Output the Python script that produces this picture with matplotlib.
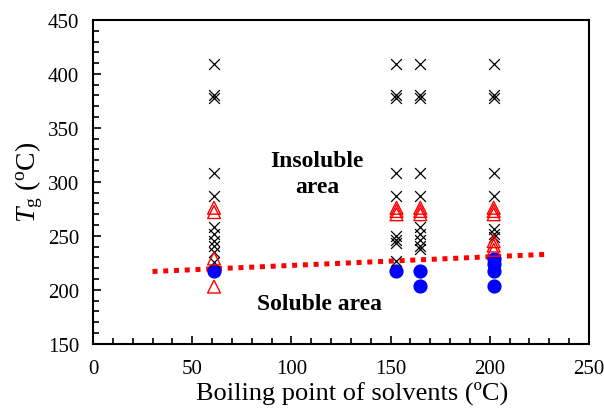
import matplotlib
matplotlib.use('Agg')
import matplotlib.pyplot as plt
from matplotlib.ticker import MultipleLocator

plt.rcParams['font.family'] = ['Liberation Serif', 'DejaVu Serif']
plt.rcParams['mathtext.fontset'] = 'custom'
plt.rcParams['mathtext.rm'] = 'Liberation Serif'
plt.rcParams['mathtext.it'] = 'Liberation Serif:italic'

# boiling points of the solvents (chloroform, DMF, DMAc, NMP)
bp_chcl3 = 61
bp_dmf = 153
bp_dmac = 165
bp_nmp = 202

# insoluble (x)
insol_x = [bp_chcl3] * 11 + [bp_dmf] * 9 + [bp_dmac] * 10 + [bp_nmp] * 8
insol_y = [409, 380, 378, 308, 287, 258, 252, 245, 241, 235, 226,
           409, 380, 378, 308, 287, 250, 246, 243, 227,
           409, 380, 378, 308, 287, 258, 252, 246, 241, 238,
           409, 380, 378, 308, 287, 256, 252, 249]

# partly soluble (open triangles)
part_x = [bp_chcl3] * 4 + [bp_dmf] * 3 + [bp_dmac] * 3 + [bp_nmp] * 6
part_y = [276, 272, 229, 203,
          276, 273, 270,
          276, 273, 270,
          276, 273, 270, 245, 241, 237]

# soluble (filled circles)
sol_x = [bp_chcl3, bp_dmf, bp_dmac, bp_dmac, bp_nmp, bp_nmp, bp_nmp, bp_nmp]
sol_y = [217, 217, 217, 204, 229, 224, 217, 204]

# boundary line
line_x = [30, 230]
line_y = [217, 233]

fig = plt.figure(figsize=(6.04, 4.10), dpi=100)
ax = fig.add_axes([0.154, 0.159, 0.821, 0.790])

ax.plot(line_x, line_y, color='red', linewidth=3.6, dashes=(1.0, 1.15),
        dash_capstyle='butt', zorder=1)
ax.scatter(insol_x, insol_y, marker='x', s=60, color='black', linewidths=0.9, zorder=3)
ax.scatter(part_x, part_y, marker='^', s=85, facecolors='none', edgecolors='red',
           linewidths=1.0, zorder=3)
ax.scatter(sol_x, sol_y, marker='o', s=85, color='blue', zorder=2)

ax.text(113, 308, 'Insoluble\narea', ha='center', va='center', fontsize=17,
        fontweight='bold', linespacing=1.3)
ax.text(114, 187, 'Soluble area', ha='center', va='center', fontsize=17,
        fontweight='bold')

ax.set_xlim(0, 250)
ax.set_ylim(150, 450)
ax.xaxis.set_major_locator(MultipleLocator(50))
ax.xaxis.set_minor_locator(MultipleLocator(10))
ax.yaxis.set_major_locator(MultipleLocator(50))
ax.yaxis.set_minor_locator(MultipleLocator(10))
ax.tick_params(which='both', direction='in', top=False, right=False, width=1.2)
ax.tick_params(which='major', length=6, labelsize=15)
ax.tick_params(which='minor', length=4)
ax.tick_params(axis='x', which='major', pad=11)
ax.tick_params(axis='y', which='major', pad=10)
for sp in ax.spines.values():
    sp.set_linewidth(1.5)

ax.set_xlabel('Boiling point of solvents (ºC)', fontsize=19)
ax.xaxis.set_label_coords(0.523, -0.112)
ax.set_ylabel(r'$T_{\rm g}$ ($^{\rm o}$C)', fontsize=20, labelpad=2)

fig.savefig('out.png', dpi=100)
